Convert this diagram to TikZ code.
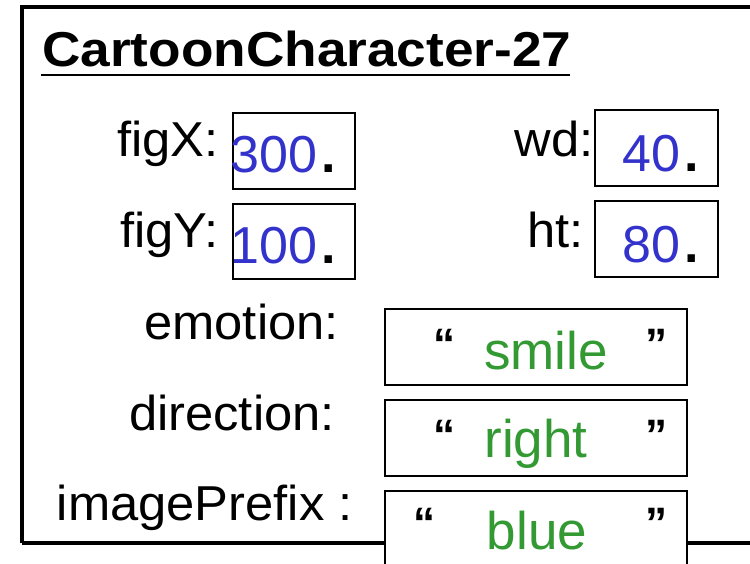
\documentclass[tikz,border=0pt]{standalone}
\usepackage{fontspec}
\setmainfont{Liberation Sans}[FakeStretch=1.035]
\newfontfamily\plainfont{Liberation Sans}
\newfontfamily\titlefont{Liberation Sans}[FakeStretch=1.086]
\definecolor{valblue}{HTML}{3333CC}
\definecolor{valgreen}{HTML}{339933}
\begin{document}
\begin{tikzpicture}[x=1pt,y=-1pt,
  lbl/.style={inner sep=0pt,anchor=base east,font=\fontsize{49}{49}\selectfont},
  numval/.style={inner sep=0pt,anchor=base west,text=valblue,font=\plainfont\fontsize{52}{52}\selectfont},
  strval/.style={inner sep=0pt,anchor=base,text=valgreen,font=\plainfont\fontsize{53}{53}\selectfont},
  dotmark/.style={inner sep=0pt,anchor=base west,xshift=4pt,font=\plainfont\bfseries\fontsize{52}{52}\selectfont},
  quot/.style={inner sep=0pt,anchor=base west,font=\plainfont\bfseries\fontsize{44}{44}\selectfont},
  field/.style={draw=black,line width=2pt,fill=white},
  outer/.style={draw=black,line width=3.2pt}]
\useasboundingbox (0,0) rectangle (750,564);
% outer object box
\draw[outer] (22,543) -- (22,7) -- (760,7);
\draw[outer] (22,543) -- (760,543);
% title
\node[inner sep=0pt,anchor=base west,font=\titlefont\bfseries\fontsize{49}{49}\selectfont] (title) at (42,67) {CartoonCharacter-27};
\draw[line width=2.5pt] (41,75) -- (570,75);
% numeric fields
\draw[field] (233,113) rectangle (355,189);
\draw[field] (233,204) rectangle (355,279);
\draw[field] (595,110) rectangle (718,186);
\draw[field] (595,201) rectangle (718,277);
\node[lbl] (lx) at (219,157) {figX:};
\node[lbl] (ly) at (219,248) {figY:};
\node[lbl] (lw) at (594,157) {wd:};
\node[lbl] (lh) at (584,248) {ht:};
\node[numval] (vx) at (230,173) {300};
\node[dotmark] at (vx.base east) {.};
\node[numval] (vy) at (230,264) {100};
\node[dotmark] at (vy.base east) {.};
\node[numval] (vw) at (622,172) {40};
\node[dotmark] at (vw.base east) {.};
\node[numval] (vh) at (622,262) {80};
\node[dotmark] at (vh.base east) {.};
% string fields
\draw[field] (385,309) rectangle (687,385);
\draw[field] (385,400) rectangle (687,476);
\draw[field] (385,491) rectangle (687,575);
\node[lbl] (le) at (339,339) {emotion:};
\node[lbl] (ld) at (335,430) {direction:};
\node[lbl] (li) at (353,520) {imagePrefix :};
\node[quot] at (433,359) {“};
\node[quot] at (645,359) {”};
\node[quot] at (433,450) {“};
\node[quot] at (645,450) {”};
\node[quot] at (413,538) {“};
\node[quot] at (645,538) {”};
\node[strval] (se) at (546,369) {smile};
\node[strval] (sd) at (536,457) {right};
\node[strval] (sb) at (537,549) {blue};
\end{tikzpicture}
\end{document}
